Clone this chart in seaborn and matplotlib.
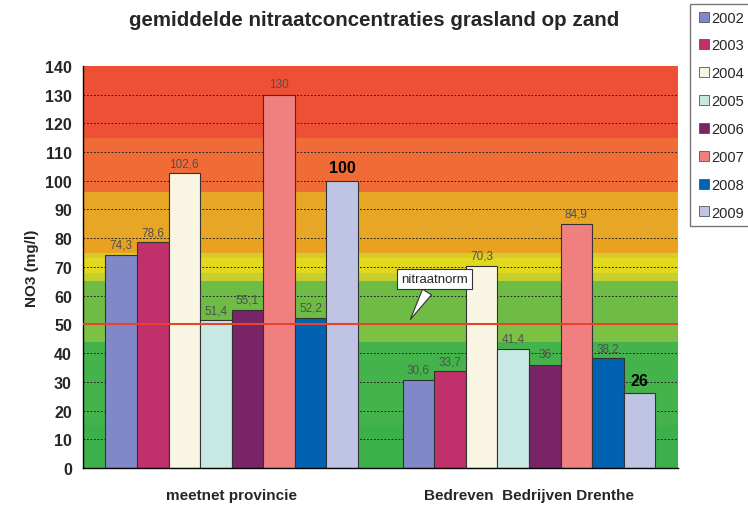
import pandas as pd
import seaborn as sns
import matplotlib.pyplot as plt
from matplotlib.lines import Line2D

# data
groups = ['meetnet provincie', 'Bedreven  Bedrijven Drenthe']
years = ['2002', '2003', '2004', '2005', '2006', '2007', '2008', '2009']
meetnet = [74.3, 78.6, 102.6, 51.4, 55.1, 130, 52.2, 100]
bedrijven = [30.6, 33.7, 70.3, 41.4, 36, 84.9, 38.2, 26]
norm = 50

colors = ['#8088C8', '#C0306A', '#F8F6E2', '#C8E8E4', '#7A2468', '#F08080', '#0062B0', '#C0C4E4']

# background colour bands (value ranges)
bands = [(0, 15, '#3CB04B'), (15, 44, '#44B34B'), (44, 50, '#7CC144'), (50, 65, '#6EBB46'),
         (65, 68, '#C5D02C'), (68, 73, '#E2D81E'), (73, 75, '#D9C92A'), (75, 80, '#E9A21F'),
         (80, 96, '#E7A626'), (96, 115, '#F16B37'), (115, 140, '#EE5036')]

df = pd.DataFrame({
    'groep': [g for g in groups for _ in years],
    'jaar': years * 2,
    'no3': meetnet + bedrijven,
})

sns.set_style('white')
plt.rcParams['font.family'] = ['Liberation Sans', 'DejaVu Sans']

fig = plt.figure(figsize=(7.48, 5.06), dpi=100)
ax = fig.add_axes([0.111, 0.073, 0.795, 0.795])

for lo, hi, c in bands:
    ax.axhspan(lo, hi, color=c, zorder=0, lw=0)
for v in range(10, 140, 10):
    ax.axhline(v, color='#222222', lw=0.7, ls=(0, (1.8, 1.8)), zorder=0.5)

palette = dict(zip(years, colors))
sns.barplot(data=df, x='groep', y='no3', hue='jaar', hue_order=years, palette=palette,
            width=0.85, gap=0, saturation=1, edgecolor='#333333', linewidth=0.8,
            legend=False, ax=ax, zorder=2)

ax.axhline(norm, color='#E8432E', lw=1.5, zorder=3)

for i, cont in enumerate(ax.containers):
    labels = [f'{v:g}'.replace('.', ',') for v in cont.datavalues]
    if years[i] == '2009':
        ax.bar_label(cont, labels=labels, padding=4, fontsize=11.5, fontweight='bold', color='black')
    else:
        ax.bar_label(cont, labels=labels, padding=3, fontsize=8.5, color='#505050')

ax.annotate('nitraatnorm', xy=(0.596, 50.9), xytext=(0.683, 65.7), ha='center', va='center',
            fontsize=9.5, zorder=5,
            bbox=dict(boxstyle='square,pad=0.3', fc='white', ec='#333333', lw=0.8),
            arrowprops=dict(arrowstyle='wedge,tail_width=0.8,shrink_factor=0.5', fc='white',
                            ec='#333333', lw=0.8))

ax.set_xlim(-0.5, 1.5)
ax.set_ylim(0, 140)
ax.set_yticks(range(0, 141, 10))
ax.set_xticks([0, 1])
ax.set_xticklabels(groups, fontsize=11, fontweight='bold')
ax.set_xticks([-0.5, 0.5, 1.5], minor=True)
ax.tick_params(axis='x', which='major', length=0, pad=14)
ax.tick_params(axis='x', which='minor', length=5, color='black', direction='out')
ax.tick_params(axis='y', length=5, color='black', direction='out', labelsize=11.5, pad=3)
for t in ax.get_yticklabels():
    t.set_fontweight('bold')
ax.set_xlabel('')
ax.set_ylabel('NO3 (mg/l)', fontsize=11, fontweight='bold', labelpad=4)

for s in ['top', 'right']:
    ax.spines[s].set_visible(False)
for s in ['left', 'bottom']:
    ax.spines[s].set_color('black')
    ax.spines[s].set_linewidth(1)

fig.text(0.5, 0.96, 'gemiddelde nitraatconcentraties grasland op zand', ha='center', va='center',
         fontsize=14.8, fontweight='bold')

handles = [Line2D([], [], marker='s', ls='', markersize=7, markerfacecolor=c,
                  markeredgecolor='#555555', markeredgewidth=0.6) for c in colors]
fig.legend(handles, years, loc='upper left', bbox_to_anchor=(0.923, 0.99), frameon=True,
           fancybox=False, edgecolor='#555555', fontsize=10.5, labelspacing=0.95,
           handletextpad=0.0, handlelength=1.0, borderpad=0.45, borderaxespad=0)

fig.savefig('out.png', dpi=100)
